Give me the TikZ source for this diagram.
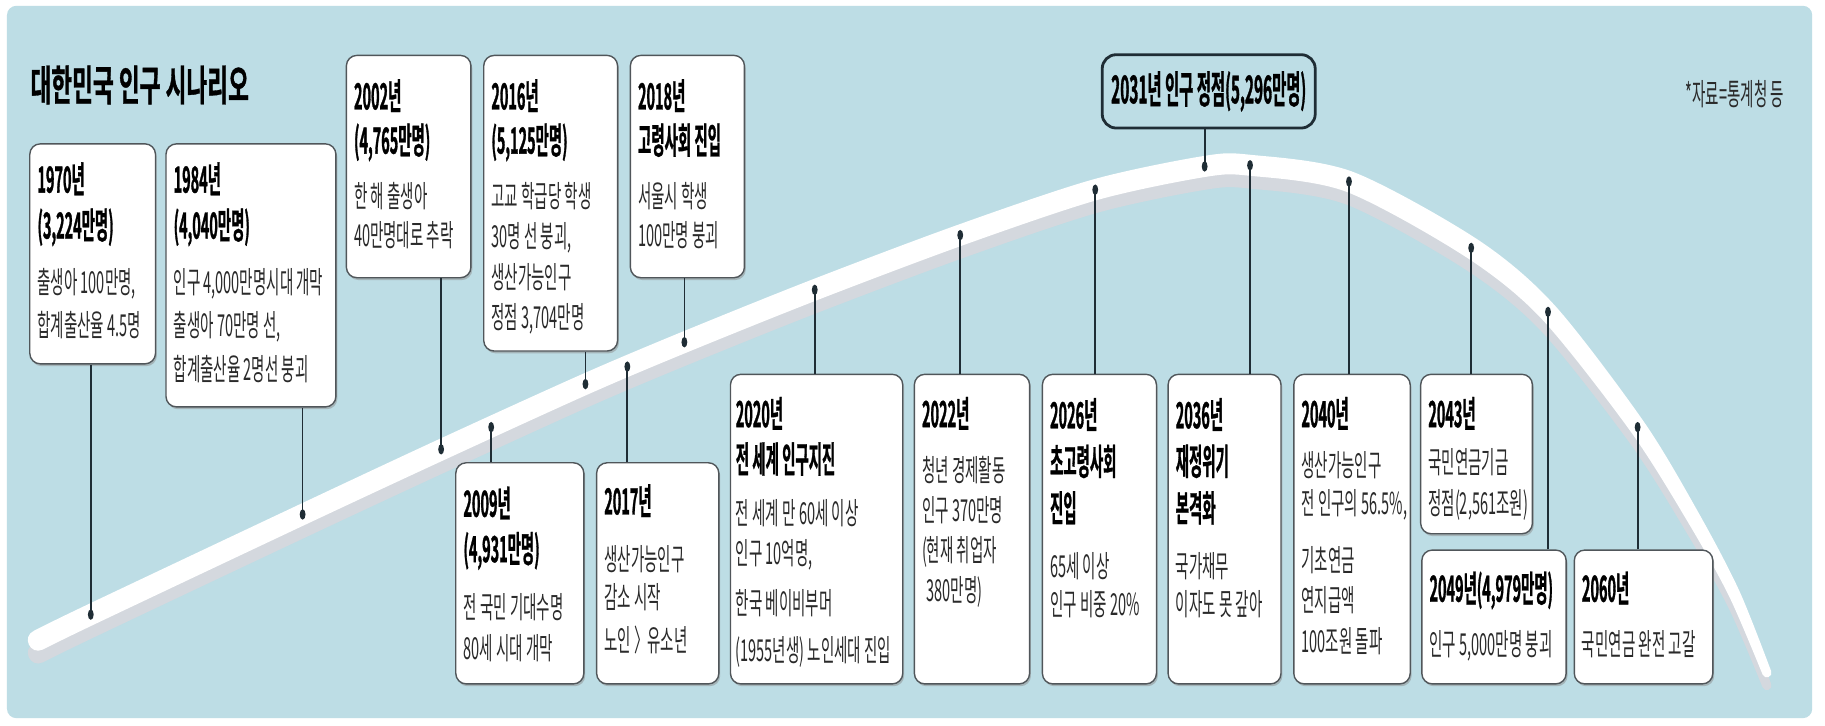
\documentclass[tikz,border=0pt]{standalone}
\usepackage{fontspec}
\usetikzlibrary{shapes.geometric,shadows}
\newfontfamily\krr[FakeStretch=0.48]{Noto Sans CJK KR}
\newfontfamily\krb[FakeStretch=0.40,FakeBold=0.8]{Noto Sans CJK KR Bold}
\newfontfamily\krt[FakeStretch=0.54,FakeBold=0.8]{Noto Sans CJK KR Bold}
\definecolor{bgblue}{HTML}{BDDDE5}
\definecolor{bandshade}{HTML}{D4D8DE}
\definecolor{ink}{HTML}{1F2D35}
\definecolor{boxline}{HTML}{50565A}
\definecolor{txtgray}{HTML}{2A2A2A}
\newcommand{\yb}[1]{{\krb\fontsize{31}{35}\selectfont\color{black}#1}}
\newcommand{\fs}{\rule{0pt}{29pt}}
\begin{document}
\begin{tikzpicture}[x=1pt,y=-1pt,
  box/.style={draw=boxline, line width=1.2pt, fill=white, rounded corners=9pt, anchor=north west, inner sep=0pt,
    drop shadow={shadow xshift=1.2pt, shadow yshift=-2pt, fill=black!45, opacity=0.5}},
  peak/.style={draw=ink, line width=2.4pt, fill=bgblue, rounded corners=12pt, minimum width=183pt, minimum height=63pt, inner sep=0pt},
  txt/.style={anchor=north west, inner sep=0pt, align=left, text=txtgray, font=\krr\fontsize{26}{35}\selectfont},
  dot/.style={ellipse, fill=ink, minimum width=5pt, minimum height=9pt, inner sep=0pt},
  conn/.style={draw=ink, line width=1.5pt},
]
\useasboundingbox (0,0) rectangle (1568,623);
\fill[white] (0,0) rectangle (1568,623);
\fill[bgblue, rounded corners=8pt] (6,5) rectangle (1557,617);

% the population curve (white band with a soft shade)
\foreach \c/\s in {bandshade/11,white/0}{
\fill[\c, shift={(0,\s)}] plot[smooth] coordinates {(29.2,541.9) (74.2,519.9) (256.2,433.9) (376.2,377.8) (499.4,321.8) (584.6,285.7) (696.7,240.6) (822.0,193.5) (938.7,154.3) (1034.3,134.0) (1074.4,133.0) (1161.7,147.4) (1269.2,205.6) (1335.7,262.3) (1412.8,363.0) (1460.2,442.1) (1494.5,507.9) (1521.7,576.6)}
 .. controls (1523.6,581.5) and (1516.2,584.3) .. (1514.3,579.4)
 -- plot[smooth] coordinates {(1514.3,579.4) (1485.5,512.1) (1449.8,447.9) (1401.2,371.0) (1324.3,273.7) (1258.8,220.4) (1156.3,164.6) (1073.6,151.0) (1035.7,152.0) (943.3,171.7) (828.0,210.5) (703.3,257.4) (591.4,302.3) (506.6,338.2) (383.8,394.2) (263.8,450.1) (81.8,536.1) (36.8,558.1)}
 .. controls (25.9,563.2) and (18.3,547.0) .. (29.2,541.9) -- cycle;
}

% title and source
\node[anchor=west, inner sep=0pt] (title) at (26,73) {\krt\fontsize{36}{36}\selectfont 대한민국 인구 시나리오};
\node[anchor=east, inner sep=0pt, text=txtgray] (src) at (1533,81) {\krr\fontsize{26}{26}\selectfont *자료=통계청 등};

% dots on the curve
\node[dot] (d1970) at (78,528) {};
\node[dot] (d1984) at (260,442) {};
\node[dot] (d2002) at (379,386) {};
\node[dot] (d2009) at (422,367) {};
\node[dot] (d2016) at (503,330) {};
\node[dot] (d2017) at (539,315) {};
\node[dot] (d2018) at (588,294) {};
\node[dot] (d2020) at (700,249) {};
\node[dot] (d2022) at (825,202) {};
\node[dot] (d2026) at (941,163) {};
\node[dot] (d2031) at (1035,143) {};
\node[dot] (d2036) at (1074,142) {};
\node[dot] (d2040) at (1159,156) {};
\node[dot] (d2043) at (1264,213) {};
\node[dot] (d2049) at (1330,268) {};
\node[dot] (d2060) at (1407,367) {};

% boxes
\node[box, minimum width=108pt, minimum height=189pt] (b1970) at (25,123) {};
\node[box, minimum width=146pt, minimum height=226pt] (b1984) at (142,123) {};
\node[box, minimum width=107pt, minimum height=191pt] (b2002) at (297,47) {};
\node[box, minimum width=115pt, minimum height=254pt] (b2016) at (415,47) {};
\node[box, minimum width=98pt, minimum height=191pt] (b2018) at (541,47) {};
\node[box, minimum width=110pt, minimum height=190pt] (b2009) at (391,397) {};
\node[box, minimum width=105pt, minimum height=190pt] (b2017) at (512,397) {};
\node[box, minimum width=148pt, minimum height=266pt] (b2020) at (627,321) {};
\node[box, minimum width=99pt, minimum height=266pt] (b2022) at (785,321) {};
\node[box, minimum width=98pt, minimum height=266pt] (b2026) at (895,321) {};
\node[box, minimum width=97pt, minimum height=266pt] (b2036) at (1003,321) {};
\node[box, minimum width=100pt, minimum height=266pt] (b2040) at (1111,321) {};
\node[box, minimum width=96pt, minimum height=137pt] (b2043) at (1220,321) {};
\node[box, minimum width=124pt, minimum height=115pt] (b2049) at (1221,472) {};
\node[box, minimum width=119pt, minimum height=115pt] (b2060) at (1352,472) {};
\node[peak] (b2031) at (1038.5,78.5) {\krb\fontsize{33}{33}\selectfont\color{black}2031년 인구 정점(5,296만명)};

% connectors
\draw[conn] (b1970.south -| d1970) -- (d1970.center);
\draw[conn] (b1984.south -| d1984) -- (d1984.center);
\draw[conn] (b2002.south -| d2002) -- (d2002.center);
\draw[conn] (b2016.south -| d2016) -- (d2016.center);
\draw[conn] (b2018.south -| d2018) -- (d2018.center);
\draw[conn] (b2031.south -| d2031) -- (d2031.center);
\draw[conn] (b2009.north -| d2009) -- (d2009.center);
\draw[conn] (b2017.north -| d2017) -- (d2017.center);
\draw[conn] (b2020.north -| d2020) -- (d2020.center);
\draw[conn] (b2022.north -| d2022) -- (d2022.center);
\draw[conn] (b2026.north -| d2026) -- (d2026.center);
\draw[conn] (b2036.north -| d2036) -- (d2036.center);
\draw[conn] (b2040.north -| d2040) -- (d2040.center);
\draw[conn] (b2043.north -| d2043) -- (d2043.center);
\draw[conn] (b2049.north -| d2049) -- (d2049.center);
\draw[conn] (b2060.north -| d2060) -- (d2060.center);

% box texts
\node[txt] (t1970) at (32,136.3) {\fs\yb{1970년}\\[4.5pt]\yb{(3,224만명)}\\[12pt]출생아 100만명,\\[2pt]합계출산율 4.5명};
\node[txt] (t1984) at (149,136.3) {\fs\yb{1984년}\\[4.5pt]\yb{(4,040만명)}\\[12pt]인구 4,000만명시대 개막\\[2.5pt]출생아 70만명 선,\\[2.5pt]합계출산율 2명선 붕괴};
\node[txt] (t2002) at (304,64.8) {\fs\yb{2002년}\\[3pt]\yb{(4,765만명)}\\[11pt]한 해 출생아\\[-1pt]40만명대로 추락};
\node[txt] (t2016) at (422,64.8) {\fs\yb{2016년}\\[3pt]\yb{(5,125만명)}\\[11pt]고교 학급당 학생\\[0pt]30명 선 붕괴,\\[0pt]생산가능인구\\[-1pt]정점 3,704만명};
\node[txt] (t2018) at (548,64.8) {\fs\yb{2018년}\\[3pt]\yb{고령사회 진입}\\[11pt]서울시 학생\\[-1pt]100만명 붕괴};
\node[txt] (t2009) at (398,414.8) {\fs\yb{2009년}\\[4pt]\yb{(4,931만명)}\\[13pt]전 국민 기대수명\\[1pt]80세 시대 개막};
\node[txt] (t2017) at (519,412.8) {\fs\yb{2017년}\\[13pt]생산가능인구\\[-2pt]감소 시작\\[2pt]노인 〉\hspace{-4pt} 유소년};
\node[txt] (t2020) at (632,337.8) {\fs\yb{2020년}\\[4pt]\yb{전 세계 인구지진}\\[10pt]전 세계 만 60세 이상\\[-1pt]인구 10억명,\\[8pt]한국 베이비부머\\[5pt](1955년생) 노인세대 진입};
\node[txt] (t2022) at (792,337.8) {\fs\yb{2022년}\\[12pt]청년 경제활동\\[-1pt]인구 370만명\\[-0.5pt](현재 취업자\\[-0.5pt]\hspace*{4pt}380만명)};
\node[txt] (t2026) at (902,338.8) {\fs\yb{2026년}\\[5pt]\yb{초고령사회}\\[5pt]\yb{진입}\\[13pt]65세 이상\\[-2pt]인구 비중 20\%};
\node[txt] (t2036) at (1010,338.8) {\fs\yb{2036년}\\[5pt]\yb{재정위기}\\[5pt]\yb{본격화}\\[13pt]국가채무\\[-2pt]이자도 못 갚아};
\node[txt] (t2040) at (1118,337.8) {\fs\yb{2040년}\\[7.5pt]생산가능인구\\[-2.5pt]전 인구의 56.5\%,\\[14pt]기초연금\\[-1pt]연지급액\\[1pt]100조원 돌파};
\node[txt] (t2043) at (1227,337.8) {\fs\yb{2043년}\\[5pt]국민연금기금\\[0pt]정점(2,561조원)};
\node[txt] (t2049) at (1228,487.8) {\fs\yb{2049년(4,979만명)}\\[11pt]인구 5,000만명 붕괴};
\node[txt] (t2060) at (1359,487.8) {\fs\yb{2060년}\\[11pt]국민연금 완전 고갈};
\end{tikzpicture}
\end{document}
